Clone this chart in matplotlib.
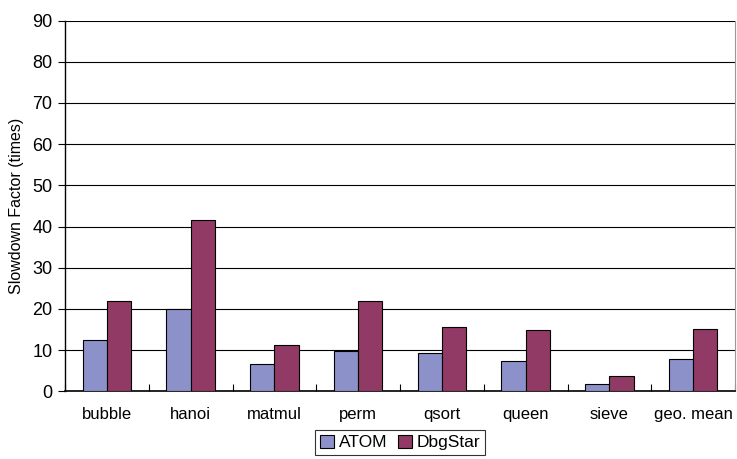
import matplotlib.pyplot as plt
import numpy as np

benchmarks = ['bubble', 'hanoi', 'matmul', 'perm', 'qsort', 'queen', 'sieve', 'geo. mean']
atom = [12.4, 19.9, 6.7, 9.8, 9.2, 7.3, 1.8, 7.8]
dbgstar = [22.0, 41.6, 11.2, 22.0, 15.5, 14.8, 3.6, 15.1]

plt.rcParams['font.family'] = ['Liberation Sans', 'DejaVu Sans']

fig = plt.figure(figsize=(7.37, 4.59), dpi=100)
ax = fig.add_axes([65/737, 1 - 391.3/459, 670/737, 370.8/459])

x = np.arange(len(benchmarks))
w = 0.29
ax.bar(x - w/2, atom, w, color='#8D91CA', edgecolor='black', linewidth=0.8,
       label='ATOM', zorder=3)
ax.bar(x + w/2, dbgstar, w, color='#913A65', edgecolor='black', linewidth=0.8,
       label='DbgStar', zorder=3)

ax.set_xlim(-0.5, len(benchmarks) - 0.5)
ax.set_ylim(0, 90)
ax.set_yticks(range(0, 91, 10))
ax.yaxis.grid(True, color='black', linewidth=0.8, zorder=0)

# category boundaries as small inward ticks
ax.set_xticks(np.arange(len(benchmarks) + 1) - 0.5, minor=True)
ax.set_xticks(x)
ax.set_xticklabels(benchmarks)
ax.tick_params(axis='x', which='major', length=0, pad=11, labelsize=12)
ax.tick_params(axis='x', which='minor', direction='in', length=5, width=0.8)
ax.tick_params(axis='y', direction='out', length=5, width=0.8, labelsize=13, pad=4)

ax.spines['top'].set_visible(False)
ax.spines['right'].set_color('#999999')
ax.spines['left'].set_linewidth(1)
ax.spines['bottom'].set_linewidth(1.2)

ax.set_ylabel('Slowdown Factor (times)', fontsize=11.5, labelpad=6)

leg = ax.legend(loc='upper center', bbox_to_anchor=(0.5, -0.105), ncol=2,
                fontsize=12.5, frameon=True, fancybox=False, edgecolor='black',
                handlelength=0.8, handleheight=0.8, handletextpad=0.3,
                columnspacing=0.6, borderpad=0.25, borderaxespad=0)
leg.get_frame().set_linewidth(0.8)

fig.savefig('out.png', dpi=100)
